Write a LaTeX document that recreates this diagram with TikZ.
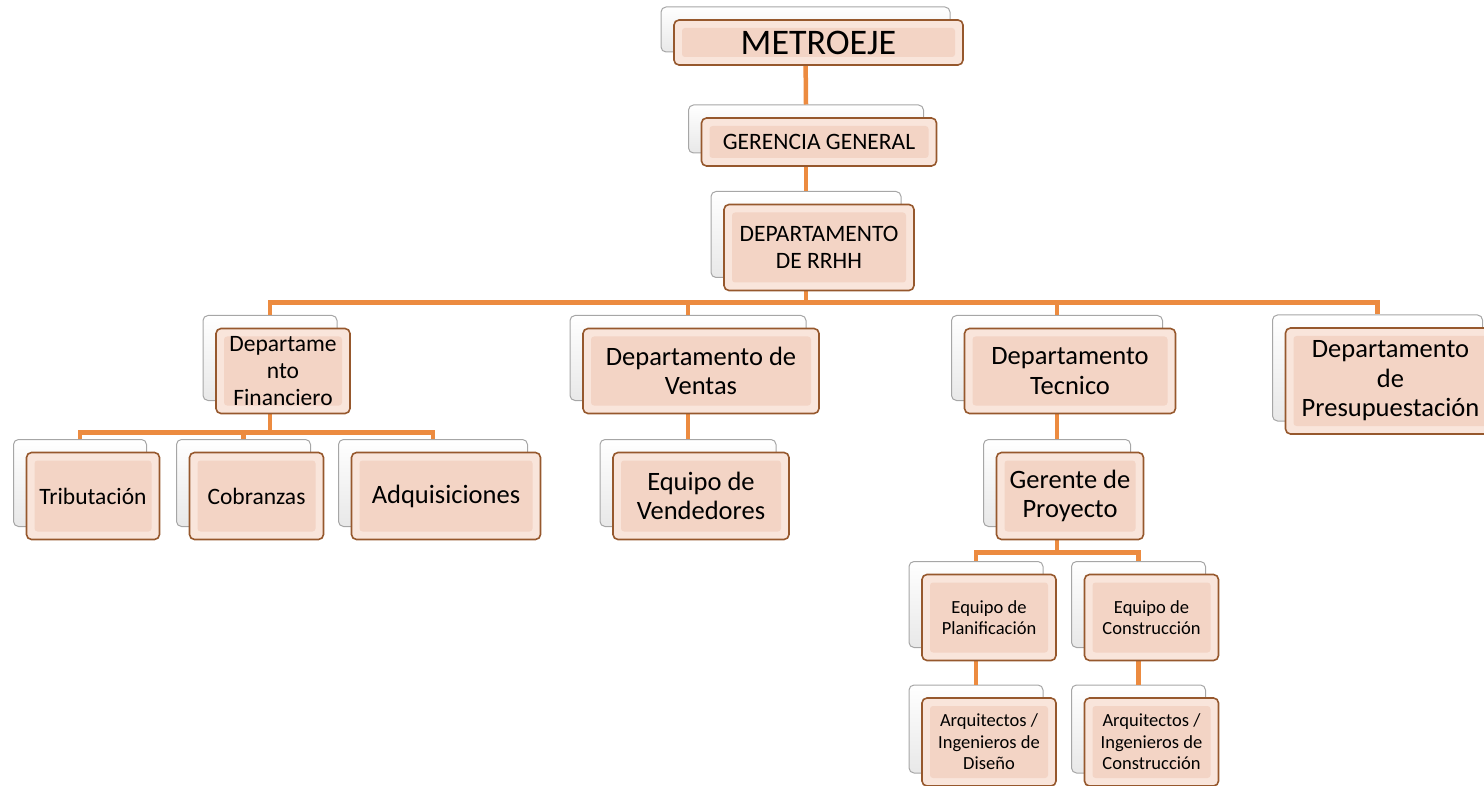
\documentclass[tikz,border=0pt]{standalone}
\usepackage{fontspec}
\setmainfont{Carlito}
\usetikzlibrary{positioning,calc}
\definecolor{peach}{RGB}{249,229,219}
\definecolor{peachin}{RGB}{243,212,197}
\definecolor{boxbrown}{RGB}{150,88,45}
\definecolor{linkorange}{RGB}{236,139,64}

\begin{document}
\begin{tikzpicture}[
  x=1pt,y=-1pt,
  sz/.style 2 args={minimum width=#1pt,minimum height=#2pt},
  back/.style={draw=black!35,top color=white,bottom color=black!9,rounded corners=5pt,line width=1pt,inner sep=0pt},
  front/.style={draw=boxbrown,fill=peach,rounded corners=5pt,line width=1.6pt,inner sep=0pt,
    align=center,xshift=13pt,yshift=-13pt,
    path picture={\fill[peachin,rounded corners=3pt]
      ([shift={(8pt,8pt)}]path picture bounding box.south west) rectangle
      ([shift={(-8pt,-8pt)}]path picture bounding box.north east);}},
  fbig/.style={font=\fontsize{36}{40}\selectfont},
  fmid/.style={font=\fontsize{26.5}{29.5}\selectfont},
  flow/.style={font=\fontsize{23.5}{27}\selectfont},
  fsml/.style={font=\fontsize{18.5}{21.5}\selectfont},
  conn/.style={draw=linkorange,line width=4.5pt},
]
\useasboundingbox (0,0) rectangle (1484,786);
\clip (0,0) rectangle (1484,786);
% shadow boxes
\node[back,sz={289}{45}] (metrob) at (805.5,29.5) {};
\node[back,sz={235}{48}] (gerb) at (806,129) {};
\node[back,sz={190}{86}] (rrhhb) at (806,234.5) {};
\node[back,sz={134}{85}] (finb) at (270,358) {};
\node[back,sz={236}{85}] (venb) at (688,358) {};
\node[back,sz={211}{85}] (tecb) at (1057,358) {};
\node[back,sz={210}{106}] (preb) at (1377.5,368) {};
\node[back,sz={133}{87}] (tribb) at (80,483) {};
\node[back,sz={134}{87}] (cobb) at (243.5,483) {};
\node[back,sz={189}{87}] (adqb) at (433,483) {};
\node[back,sz={176}{87}] (vendb) at (688,483) {};
\node[back,sz={147}{87}] (gpb) at (1057,483) {};
\node[back,sz={134}{86}] (planb) at (976,604.5) {};
\node[back,sz={134}{86}] (consb) at (1138.5,604.5) {};
\node[back,sz={134}{88}] (arqdb) at (976,729) {};
\node[back,sz={134}{88}] (arqcb) at (1138.5,729) {};
% connectors
\draw[conn] (metrob.south) -- (gerb.north);
\draw[conn] (gerb.south) -- (rrhhb.north);
\draw[conn] (rrhhb.south) -- ++(0,24.5) -| (finb.north);
\draw[conn] (rrhhb.south) -- ++(0,24.5) -| (venb.north);
\draw[conn] (rrhhb.south) -- ++(0,24.5) -| (tecb.north);
\draw[conn] (rrhhb.south) -- ++(0,24.5) -| (preb.north);
\draw[conn] (finb.south) -- ++(0,31.5) -| (tribb.north);
\draw[conn] (finb.south) -- ++(0,31.5) -| (cobb.north);
\draw[conn] (finb.south) -- ++(0,31.5) -| (adqb.north);
\draw[conn] (venb.south) -- (vendb.north);
\draw[conn] (tecb.south) -- (gpb.north);
\draw[conn] (gpb.south) -- ++(0,25.5) -| (planb.north);
\draw[conn] (gpb.south) -- ++(0,25.5) -| (consb.north);
\draw[conn] (planb.south) -- (arqdb.north);
\draw[conn] (consb.south) -- (arqcb.north);
% front boxes
\node[front,fbig,sz={289}{45}] (metro) at (metrob) {METROEJE};
\node[front,flow,sz={235}{48}] (ger) at (gerb) {GERENCIA GENERAL};
\node[front,flow,sz={190}{86}] (rrhh) at (rrhhb) {DEPARTAMENTO\\DE RRHH};
\node[front,flow,sz={134}{85}] (fin) at (finb) {Departame\\nto\\Financiero};
\node[front,fmid,sz={236}{85}] (ven) at (venb) {Departamento de\\Ventas};
\node[front,fmid,sz={211}{85}] (tec) at (tecb) {Departamento\\Tecnico};
\node[front,fmid,sz={210}{106}] (pre) at (preb) {Departamento\\de\\Presupuestación};
\node[front,flow,sz={133}{87}] (trib) at (tribb) {Tributación};
\node[front,flow,sz={134}{87}] (cob) at (cobb) {Cobranzas};
\node[front,fmid,sz={189}{87}] (adq) at (adqb) {Adquisiciones};
\node[front,fmid,sz={176}{87}] (vend) at (vendb) {Equipo de\\Vendedores};
\node[front,fmid,sz={147}{87}] (gp) at (gpb) {Gerente de\\Proyecto};
\node[front,fsml,sz={134}{86}] (plan) at (planb) {Equipo de\\Planificación};
\node[front,fsml,sz={134}{86}] (cons) at (consb) {Equipo de\\Construcción};
\node[front,fsml,sz={134}{88}] (arqd) at (arqdb) {Arquitectos /\\Ingenieros de\\Diseño};
\node[front,fsml,sz={134}{88}] (arqc) at (arqcb) {Arquitectos /\\Ingenieros de\\Construcción};
\end{tikzpicture}
\end{document}
